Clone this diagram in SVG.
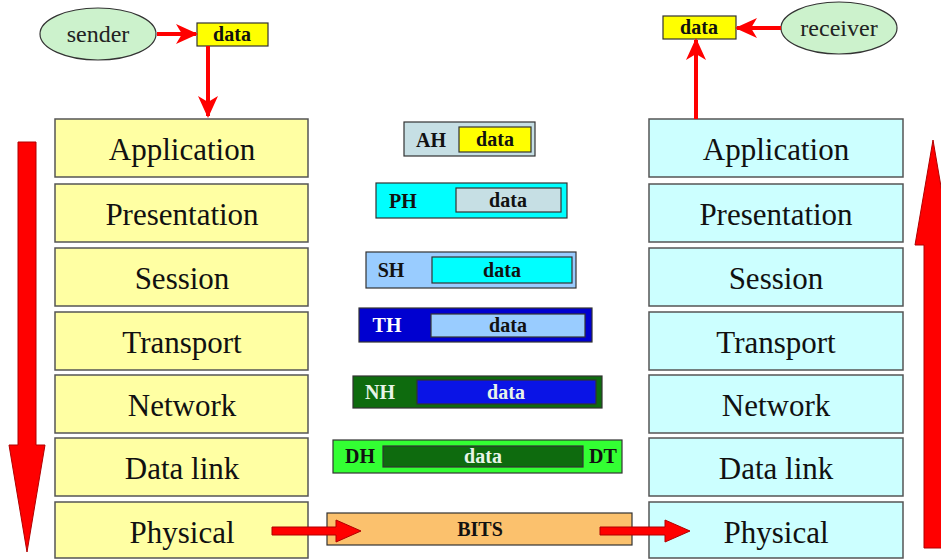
<svg xmlns="http://www.w3.org/2000/svg" width="941" height="559" viewBox="0 0 941 559">
<style>
.lbox{fill:#ffffa3;stroke:#555;stroke-width:1.5}
.rbox{fill:#ccffff;stroke:#555;stroke-width:1.5}
text{font-family:'Liberation Serif','DejaVu Serif','Times New Roman',Times,serif}
.layer{font-size:31px;fill:#111;text-anchor:middle}
.ell{fill:#ccf2cc;stroke:#333;stroke-width:1.2}
.who{font-size:24px;fill:#222;text-anchor:middle}
.b{font-size:20px;font-weight:bold;text-anchor:middle;fill:#111}
.pk{stroke:#333;stroke-width:1.2}
.red{fill:#ff0000;stroke:#b00000;stroke-width:1}
.rline{stroke:#ff0000;stroke-width:4;fill:none}
</style>
<defs>
<marker id="ah" markerWidth="22" markerHeight="20" refX="20" refY="10" orient="auto" markerUnits="userSpaceOnUse" viewBox="0 0 22 20">
<path d="M0,0 L22,10 L0,20 L6,10 Z" fill="#ff0000"/>
</marker>
</defs>
<rect width="941" height="559" fill="#fff"/>

<g id="sender">
<ellipse class="ell" cx="98" cy="34" rx="58" ry="26"/>
<text class="who" x="98" y="42">sender</text>
</g>
<g id="sender-data">
<rect x="197" y="23" width="71" height="23" fill="#ffff00" class="pk"/>
<text class="b" x="232" y="41">data</text>
</g>
<g id="receiver">
<ellipse class="ell" cx="839" cy="28" rx="58" ry="26"/>
<text class="who" x="839" y="36">receiver</text>
</g>
<g id="receiver-data">
<rect x="663" y="16" width="73" height="23" fill="#ffff00" class="pk"/>
<text class="b" x="699" y="34">data</text>
</g>

<g id="sender-stack">
<g id="s-application"><rect class="lbox" x="55" y="119" width="253" height="58"/><text class="layer" x="182" y="160">Application</text></g>
<g id="s-presentation"><rect class="lbox" x="55" y="184" width="253" height="58"/><text class="layer" x="182" y="225">Presentation</text></g>
<g id="s-session"><rect class="lbox" x="55" y="248" width="253" height="58"/><text class="layer" x="182" y="289">Session</text></g>
<g id="s-transport"><rect class="lbox" x="55" y="312" width="253" height="58"/><text class="layer" x="182" y="353">Transport</text></g>
<g id="s-network"><rect class="lbox" x="55" y="375" width="253" height="58"/><text class="layer" x="182" y="416">Network</text></g>
<g id="s-datalink"><rect class="lbox" x="55" y="438" width="253" height="58"/><text class="layer" x="182" y="479">Data link</text></g>
<g id="s-physical"><rect class="lbox" x="55" y="502" width="253" height="56"/><text class="layer" x="182" y="543">Physical</text></g>
</g>

<g id="receiver-stack">
<g id="r-application"><rect class="rbox" x="649" y="119" width="254" height="58"/><text class="layer" x="776" y="160">Application</text></g>
<g id="r-presentation"><rect class="rbox" x="649" y="184" width="254" height="58"/><text class="layer" x="776" y="225">Presentation</text></g>
<g id="r-session"><rect class="rbox" x="649" y="248" width="254" height="58"/><text class="layer" x="776" y="289">Session</text></g>
<g id="r-transport"><rect class="rbox" x="649" y="312" width="254" height="58"/><text class="layer" x="776" y="353">Transport</text></g>
<g id="r-network"><rect class="rbox" x="649" y="375" width="254" height="58"/><text class="layer" x="776" y="416">Network</text></g>
<g id="r-datalink"><rect class="rbox" x="649" y="438" width="254" height="58"/><text class="layer" x="776" y="479">Data link</text></g>
<g id="r-physical"><rect class="rbox" x="649" y="502" width="254" height="56"/><text class="layer" x="776" y="543">Physical</text></g>
</g>

<g id="pkt-ah">
<rect class="pk" x="404" y="122" width="131" height="34" fill="#c6dfe4"/>
<rect class="pk" x="459" y="127" width="72" height="25" fill="#ffff00"/>
<text class="b" x="431" y="147">AH</text>
<text class="b" x="495" y="146">data</text>
</g>
<g id="pkt-ph">
<rect class="pk" x="376" y="183" width="191" height="35" fill="#00ffff"/>
<rect class="pk" x="456" y="188" width="105" height="24" fill="#c6dfe4"/>
<text class="b" x="403" y="208">PH</text>
<text class="b" x="508" y="207">data</text>
</g>
<g id="pkt-sh">
<rect class="pk" x="366" y="252" width="210" height="36" fill="#99ccff"/>
<rect class="pk" x="432" y="257" width="140" height="26" fill="#00ffff"/>
<text class="b" x="391" y="277">SH</text>
<text class="b" x="502" y="277">data</text>
</g>
<g id="pkt-th">
<rect class="pk" x="359" y="308" width="233" height="34" fill="#0000d0"/>
<rect class="pk" x="431" y="314" width="154" height="23" fill="#99ccff"/>
<text class="b" x="387" y="332" style="fill:#ffffff">TH</text>
<text class="b" x="508" y="332">data</text>
</g>
<g id="pkt-nh">
<rect class="pk" x="353" y="376" width="249" height="32" fill="#0e6b0e"/>
<rect class="pk" x="417" y="380" width="179" height="24" fill="#0a14e6"/>
<text class="b" x="380" y="399" style="fill:#e8f4e8">NH</text>
<text class="b" x="506" y="399" style="fill:#e8f4e8">data</text>
</g>
<g id="pkt-dh">
<rect class="pk" x="333" y="440" width="289" height="33" fill="#33ff33"/>
<rect class="pk" x="383" y="446" width="200" height="21" fill="#0e6b0e"/>
<text class="b" x="360" y="463">DH</text>
<text class="b" x="483" y="463" style="fill:#e8f4e8">data</text>
<text class="b" x="603" y="463">DT</text>
</g>
<g id="bits">
<rect class="pk" x="327" y="513" width="305" height="32" fill="#fbc16d"/>
<text class="b" x="480" y="536">BITS</text>
</g>

<g id="connectors">
<line class="rline" x1="157" y1="34" x2="196" y2="34" marker-end="url(#ah)"/>
<line class="rline" x1="208" y1="46" x2="208" y2="116" marker-end="url(#ah)"/>
<line class="rline" x1="781" y1="28" x2="737" y2="28" marker-end="url(#ah)"/>
<line class="rline" x1="696" y1="119" x2="696" y2="40" marker-end="url(#ah)"/>
<polygon class="red" points="18,142 36,142 36,445 45,445 27,552 9,445 18,445"/>
<polygon class="red" points="924,548 942,548 942,245 951,245 933,140 915,245 924,245"/>
<polygon class="red" points="272,527 336,527 336,520 361,531 336,542 336,535 272,535"/>
<polygon class="red" points="600,527 665,527 665,520 690,531 665,542 665,535 600,535"/>
</g>
</svg>
